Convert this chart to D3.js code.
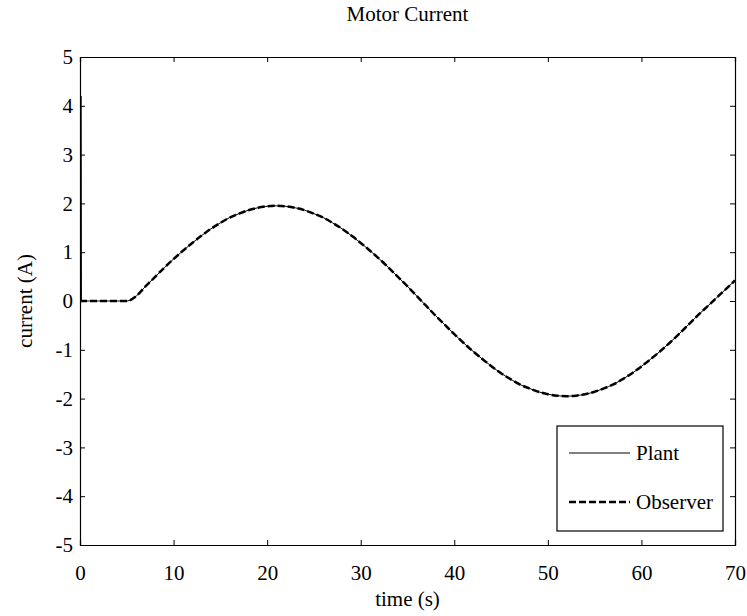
<!DOCTYPE html>
<html><head><meta charset="utf-8">
<script src="https://cdn.jsdelivr.net/npm/d3@7"></script>
<style>body{margin:0;background:#fff}svg{display:block}text{font-family:"Liberation Serif","Times New Roman",serif;fill:#000}</style>
</head><body><div id="chart"></div>
<script>
const title = "Motor Current";
const xLabel = "time (s)";
const yLabel = "current (A)";
const xTicks = [0,10,20,30,40,50,60,70];
const yTicks = [-5,-4,-3,-2,-1,0,1,2,3,4,5];
const seriesNames = ["Plant","Observer"];
// time samples (s)
const timeVals = [0,1,2,3,4,5,6,7,8,9,10,11,12,13,14,15,16,17,18,19,20,21,22,23,24,25,26,27,28,29,30,31,32,33,34,35,36,37,38,39,40,41,42,43,44,45,46,47,48,49,50,51,52,53,54,55,56,57,58,59,60,61,62,63,64,65,66,67,68,69,70];
// current (A)
const currentVals = [0,0,0,0,0,0,0.10,0.30,0.49,0.68,0.86,1.03,1.19,1.34,1.48,1.60,1.71,1.79,1.86,1.91,1.94,1.95,1.94,1.91,1.86,1.79,1.71,1.60,1.48,1.34,1.19,1.03,0.86,0.68,0.49,0.30,0.10,-0.10,-0.30,-0.49,-0.68,-0.86,-1.03,-1.19,-1.34,-1.48,-1.60,-1.71,-1.79,-1.86,-1.91,-1.94,-1.95,-1.94,-1.91,-1.86,-1.79,-1.71,-1.60,-1.48,-1.34,-1.19,-1.03,-0.86,-0.68,-0.49,-0.30,-0.12,0.06,0.24,0.42];
// initial spike of the plant current
const spikeTime = [0.1,0.15];
const spikeVals = [4.2,0];

const W=747,H=616, m={l:80,r:12,t:57,b:71};
const svg=d3.select("#chart").append("svg").attr("width",W).attr("height",H);
const x=d3.scaleLinear().domain([0,70]).range([m.l,W-m.r]);
const y=d3.scaleLinear().domain([-5,5]).range([H-m.b,m.t]);

const plantSpike = spikeTime.map((t,i)=>[t,spikeVals[i]]);
const plantRest = timeVals.slice(1).map((t,i)=>[t,currentVals[i+1]]);
const observer = timeVals.map((t,i)=>[t,currentVals[i]]);
const line=d3.line().x(d=>x(d[0])).y(d=>y(d[1])).curve(d3.curveMonotoneX);
const lineL=d3.line().x(d=>x(d[0])).y(d=>y(d[1]));

const g=svg.append("g");
g.append("path").attr("d",lineL([[spikeTime[0],0]].concat(plantSpike,[plantRest[0]]))).attr("fill","none").attr("stroke","#000").attr("stroke-width",1);
g.append("path").attr("d",line(plantRest)).attr("fill","none").attr("stroke","#000").attr("stroke-width",1);
g.append("path").attr("d",line(observer)).attr("fill","none").attr("stroke","#000").attr("stroke-width",2.5).attr("stroke-dasharray","7,3");

const fs=21;
const ax=svg.append("g").attr("transform",`translate(0,${H-m.b})`).call(d3.axisBottom(x).tickValues(xTicks).tickSize(-5).tickPadding(20));
const axT=svg.append("g").attr("transform",`translate(0,${m.t})`).call(d3.axisTop(x).tickValues(xTicks).tickSize(-5).tickFormat(""));
const ay=svg.append("g").attr("transform",`translate(${m.l},0)`).call(d3.axisLeft(y).tickValues(yTicks).tickSize(-5).tickPadding(7));
const ayR=svg.append("g").attr("transform",`translate(${W-m.r},0)`).call(d3.axisRight(y).tickValues(yTicks).tickSize(-5).tickFormat(""));
[ax,axT,ay,ayR].forEach(a=>{a.select(".domain").attr("stroke","#000").attr("stroke-width",1.2);a.selectAll(".tick line").attr("stroke","#000");a.selectAll("text").attr("font-size",fs).attr("font-family","Liberation Serif");});
ay.selectAll("text").text(d=>d<0?"-"+Math.abs(d):d);

svg.append("text").attr("x",(m.l+W-m.r)/2).attr("y",21).attr("text-anchor","middle").attr("font-size",fs).text(title);
svg.append("text").attr("x",(m.l+W-m.r)/2).attr("y",606).attr("text-anchor","middle").attr("font-size",fs).text(xLabel);
svg.append("text").attr("transform",`translate(32,${(m.t+H-m.b)/2}) rotate(-90)`).attr("text-anchor","middle").attr("font-size",fs).text(yLabel);

// legend
const lg=svg.append("g");
lg.append("rect").attr("x",557).attr("y",426).attr("width",166).attr("height",105).attr("fill","#fff").attr("stroke","#000").attr("stroke-width",1.2);
const ly=[453,502];
seriesNames.forEach((n,i)=>{
  lg.append("line").attr("x1",569).attr("x2",630).attr("y1",ly[i]).attr("y2",ly[i]).attr("stroke","#000")
    .attr("stroke-width",i?2.5:1).attr("stroke-dasharray",i?"7,3":null);
  lg.append("text").attr("x",636).attr("y",ly[i]+7).attr("font-size",fs).text(n);
});
</script></body></html>
